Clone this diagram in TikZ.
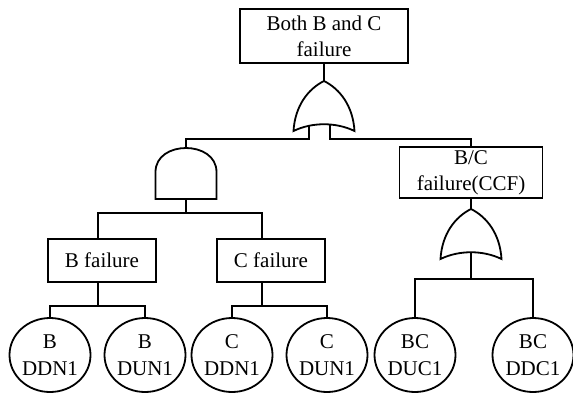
\documentclass[tikz,border=0pt]{standalone}
\usepackage{fontspec}
\setmainfont{Liberation Serif}
\usetikzlibrary{shapes.geometric}

\begin{document}
\begin{tikzpicture}[x=1pt, y=-1pt, line width=1.8pt,
	event/.style={draw, rectangle, inner sep=0pt, align=center, font=\fontsize{21}{26}\selectfont},
	basic/.style={draw, ellipse, inner sep=0pt, minimum width=81pt, minimum height=74pt, align=center, font=\fontsize{21}{27}\selectfont},
	orgate/.pic={
		\draw (0,0) .. controls (16,8) and (29,25) .. (30.5,50) .. controls (12,41) and (-12,41) .. (-30.5,50) .. controls (-29,25) and (-16,8) .. (0,0) -- cycle;
		\coordinate (-tip) at (0,0);
		\coordinate (-in) at (0,43);
		\coordinate (-in1) at (-15,44);
		\coordinate (-in2) at (6,44);},
	andgate/.pic={
		\draw (-30.5,51) -- (-30.5,24) .. controls (-30.5,-8) and (30.5,-8) .. (30.5,24) -- (30.5,51) -- cycle;
		\coordinate (-top) at (0,0);
		\coordinate (-bottom) at (0,51);}]
	\useasboundingbox (0,0) rectangle (573,394);

	% Top event
	\node[event, minimum width=168pt, minimum height=54pt] (top) at (324,36) {Both B and C\\failure};
	\pic (orA) at (324,81) {orgate};
	\draw (top.south) -- (orA-tip);

	% Independent failures
	\pic (andA) at (186,148) {andgate};
	\draw (orA-in1) -- ++(0,14) -| (andA-top);
	\node[event, minimum width=108pt, minimum height=43pt] (bfail) at (102,260.5) {B failure};
	\node[event, minimum width=108pt, minimum height=43pt] (cfail) at (271,260.5) {C failure};
	\draw (andA-bottom) -- ++(0,14) -| ([xshift=-4pt]bfail.north);
	\draw (andA-bottom) -- ++(0,14) -| ([xshift=-9pt]cfail.north);

	% Common cause failure
	\node[event, minimum width=143pt, minimum height=51pt] (bcbox) at (471,172.5) {B/C\\failure(CCF)};
	\draw (orA-in2) -- ++(0,14) -| (bcbox.north);
	\pic (orB) at (471,209) {orgate};
	\draw (bcbox.south) -- (orB-tip);

	% Basic events
	\node[basic] (b1) at (50,355) {B\\DDN1};
	\node[basic] (b2) at (145,355) {B\\DUN1};
	\node[basic] (c1) at (232,355) {C\\DDN1};
	\node[basic] (c2) at (327,355) {C\\DUN1};
	\node[basic] (bc1) at (415,355) {BC\\DUC1};
	\node[basic] (bc2) at (533,355) {BC\\DDC1};
	\draw ([xshift=-4pt]bfail.south) -- ++(0,23) -| (b1.north);
	\draw ([xshift=-4pt]bfail.south) -- ++(0,23) -| (b2.north);
	\draw ([xshift=-9pt]cfail.south) -- ++(0,23) -| (c1.north);
	\draw ([xshift=-9pt]cfail.south) -- ++(0,23) -| (c2.north);
	\draw (orB-in) -- ++(0,27) -| (bc1.north);
	\draw (orB-in) -- ++(0,27) -| (bc2.north);
\end{tikzpicture}
\end{document}
